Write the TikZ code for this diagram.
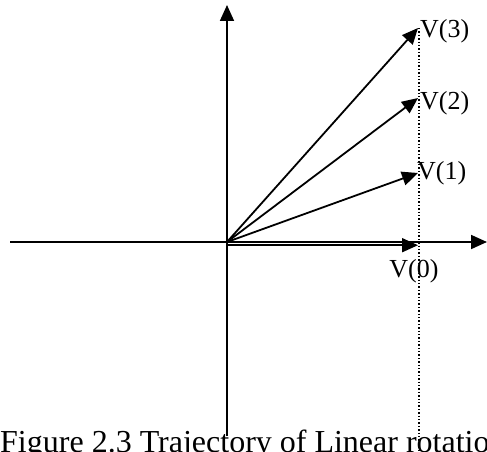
\documentclass[tikz,border=0pt]{standalone}
\usepackage{fontspec}
\setmainfont{Liberation Serif}
\usepackage{tikz}
\usetikzlibrary{arrows.meta,positioning}

\begin{document}
\begin{tikzpicture}[
    x=1pt, y=1pt,
    axis/.style={-{Triangle[length=16pt,width=14pt]}, line width=1.8pt},
    vec/.style={-{Triangle[length=16pt,width=14pt]}, line width=1.8pt},
    guide/.style={dotted, line width=1.4pt},
    lbl/.style={font=\fontsize{26}{30}\selectfont, inner sep=0pt}
]
    \useasboundingbox (0,0) rectangle (487,451);
    \clip (0,0) rectangle (487,451);

    %% Achsen
    \coordinate (o) at (227,209);
    \coordinate (xl) at (10,209);
    \coordinate (xr) at (487,209);
    \coordinate (yb) at (227,15);
    \coordinate (yt) at (227,446);
    \draw[axis] (xl) -- (xr);
    \draw[axis] (yb) -- (yt);

    %% Spitzen der Vektoren
    \coordinate (o0) at (227,205.8);
    \coordinate (t0) at (418,205.8);
    \coordinate (t1) at (418,278);
    \coordinate (t2) at (418,353);
    \coordinate (t3) at (418,423);

    %% Hilfslinie
    \coordinate (gtop) at (419,423);
    \coordinate (gbot) at (419,0);
    \draw[guide] (gtop) -- (gbot);

    %% Vektoren
    \draw[vec] (o0) -- (t0);
    \draw[vec] (o) -- (t1);
    \draw[vec] (o) -- (t2);
    \draw[vec] (o) -- (t3);

    %% Beschriftungen
    \node[lbl, right=2pt of t3, yshift=-3pt] (v3) {V(3)};
    \node[lbl, right=2pt of t2, yshift=-5pt] (v2) {V(2)};
    \node[lbl, right=-1pt of t1] (v1) {V(1)};
    \node[lbl, below=14pt of t0, xshift=-4pt] (v0) {V(0)};

    %% Bildunterschrift
    \node[font=\fontsize{32}{36}\selectfont, inner sep=0pt, anchor=base west] (cap) at (0,-1) {Figure 2.3 Trajectory of Linear rotation};
\end{tikzpicture}
\end{document}
